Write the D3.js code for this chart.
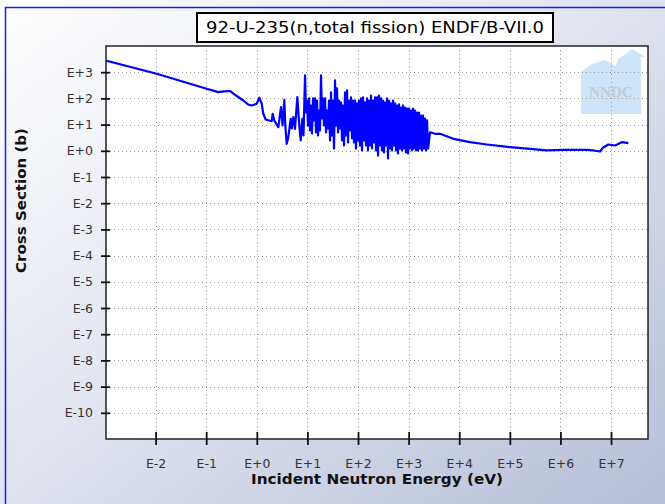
<!DOCTYPE html>
<html><head><meta charset="utf-8">
<script src="https://cdn.jsdelivr.net/npm/d3@7"></script>
<style>html,body{margin:0;padding:0;background:#fff;} svg{display:block}</style>
</head><body>
<svg id="chart" width="665" height="504"></svg>
<script>
// ---------------- data ----------------
const chartTitle = "92-U-235(n,total fission) ENDF/B-VII.0";
const xAxisTitle = "Incident Neutron Energy (eV)";
const yAxisTitle = "Cross Section (b)";
const xTickExponents = [-2, -1, 0, 1, 2, 3, 4, 5, 6, 7];
const yTickExponents = [3, 2, 1, 0, -1, -2, -3, -4, -5, -6, -7, -8, -9, -10];
const xDomainExponents = [-2.98, 7.73];
const yDomainExponents = [-11, 4];

// thermal + low resonances
const energyLow = [0.001, 0.01051, 0.1023, 0.1734, 0.2248, 0.2954, 0.388, 0.541, 0.670, 0.793, 0.995, 1.121, 1.250, 1.344, 1.499, 1.970, 2.062, 2.218, 2.660, 3.008, 3.221, 3.496, 3.658, 3.898, 4.194, 4.677, 4.895, 5.264, 5.686, 6.315, 6.917, 7.373, 7.93, 8.375];
const sigmaLow  = [2830, 873, 233, 173, 184, 192, 129, 83.2, 58.7, 53.7, 62.4, 105.8, 62.4, 25.9, 15.7, 13.5, 25.9, 14.4, 7.97, 46.3, 9.26, 88.7, 9.26, 1.85, 3.31, 16.7, 7.11, 19.2, 6.92, 111, 9.26, 2.47, 16.7, 3.84];

// dense resolved-resonance region
const energyRes = [8.97, 9.38, 9.82, 10.28, 10.76, 11.26, 11.78, 12.33, 12.90, 13.51, 14.13, 14.79, 15.48, 16.20, 16.95, 17.75, 18.58, 19.44, 20.35, 21.30, 22.28, 23.32, 24.40, 25.54, 26.73, 27.97, 29.27, 30.64, 32.06, 33.56, 35.12, 36.76, 38.47, 40.26, 42.13, 44.10, 46.15, 48.30, 50.55, 52.91, 55.36, 57.94, 60.64, 63.46, 66.41, 69.51, 72.75, 76.13, 79.68, 83.39, 87.27, 91.33, 95.58, 100.0, 104.7, 109.5, 114.6, 119.9, 125.5, 131.4, 137.5, 143.9, 150.6, 157.6, 165.0, 172.7, 180.7, 189.2, 198.0, 207.2, 216.8, 226.9, 237.5, 248.5, 260.1, 272.2, 284.9, 298.1, 312.0, 326.6, 341.7, 357.6, 374.3, 391.7, 409.9, 429.0, 449.0, 469.9, 491.8, 514.7, 538.6, 563.7, 589.9, 617.4, 646.2, 676.2, 707.7, 740.6, 775.1, 811.2, 849.0, 888.5, 929.9, 973.2, 1018, 1066, 1116, 1168, 1222, 1279, 1338, 1400, 1466, 1534, 1605, 1680, 1758, 1840, 1926, 2015, 2109, 2207, 2310, 2418];
const sigmaRes  = [752, 29.0, 83.2, 9.26, 99.5, 5.96, 53.7, 4.58, 99.5, 14.4, 99.5, 5.00, 83.2, 3.84, 34.6, 5.96, 752, 17.1, 99.5, 9.26, 99.5, 5.00, 34.6, 7.11, 83.2, 2.47, 169, 3.84, 83.2, 1.22, 484, 9.26, 240, 5.00, 83.2, 7.11, 69.9, 2.47, 53.7, 1.59, 169, 3.84, 201, 2.07, 83.2, 5.96, 109, 2.95, 83.2, 2.07, 83.2, 1.22, 64.1, 2.47, 83.2, 1.59, 99.5, 1.03, 109, 2.47, 69.9, 1.59, 99.5, 1.03, 83.2, 1.59, 129, 1.22, 83.2, 2.07, 109, 1.03, 109, 0.66, 129, 1.59, 99.5, 1.03, 83.2, 0.861, 69.9, 1.59, 99.5, 0.51, 83.2, 1.22, 64.1, 1.03, 83.2, 1.59, 64.1, 1.03, 53.7, 0.79, 58.7, 1.22, 44.9, 1.03, 53.7, 1.22, 44.9, 0.861, 41.2, 0.79, 41.2, 1.22, 34.6, 1.03, 41.2, 1.22, 34.6, 1.03, 29.0, 1.03, 29.0, 1.22, 22.2, 1.03, 22.2, 1.22, 17.1, 1.03, 14.4, 1.22];

// smooth / fast region
const energyHigh = [2648, 3324, 4175, 7646, 16350, 34960, 100900, 250700, 536000, 1141000, 3310000, 4470000, 6060000, 6860000, 8850000, 12000000, 16300000, 22000000];
const sigmaHigh  = [5.1, 4.46, 4.46, 2.87, 2.13, 1.74, 1.37, 1.19, 1.03, 1.09, 1.09, 1.03, 0.94, 1.30, 1.74, 1.59, 2.13, 1.95];

const energy = energyLow.concat(energyRes, energyHigh);
const sigma = sigmaLow.concat(sigmaRes, sigmaHigh);
const points = energy.map((e, i) => ({ e: e, s: sigma[i] }));

// ---------------- drawing ----------------
const W = 665, H = 504;
const plot = { left: 106, top: 46, right: 648, bottom: 439 };
const svg = d3.select("#chart");
const defs = svg.append("defs");

const bg = defs.append("linearGradient").attr("id", "bgGrad")
  .attr("x1", "0").attr("y1", "0").attr("x2", "1").attr("y2", "1");
bg.append("stop").attr("offset", "0").attr("stop-color", "#ffffff");
bg.append("stop").attr("offset", "0.45").attr("stop-color", "#e3e6f0");
bg.append("stop").attr("offset", "1").attr("stop-color", "#b6bed8");

defs.append("clipPath").attr("id", "plotClip").append("rect")
  .attr("x", plot.left).attr("y", plot.top)
  .attr("width", plot.right - plot.left).attr("height", plot.bottom - plot.top);

svg.append("rect").attr("width", W).attr("height", H).attr("fill", "url(#bgGrad)");
// blue outer frame (top + left)
svg.append("path").attr("d", `M5.5,${H} L5.5,7.5 L${W},7.5`)
  .attr("fill", "none").attr("stroke", "#1a1aff").attr("stroke-width", 1.5);

const x = d3.scaleLog().domain(xDomainExponents.map(p => Math.pow(10, p))).range([plot.left, plot.right]);
const y = d3.scaleLog().domain(yDomainExponents.map(p => Math.pow(10, p))).range([plot.bottom, plot.top]);

// plot background
svg.append("rect").attr("x", plot.left).attr("y", plot.top)
  .attr("width", plot.right - plot.left).attr("height", plot.bottom - plot.top)
  .attr("fill", "#ffffff");

// NNDC watermark logo
const logo = svg.append("g").attr("clip-path", "url(#plotClip)");
logo.append("polygon")
  .attr("points", "581,114 581,72 592,64 604,60 611,63 616,66 618,59 626,54 632,49 637,52 645,57 641,57 641,114")
  .attr("fill", "#cde5fa");
logo.append("text").attr("x", 611).attr("y", 97).attr("text-anchor", "middle")
  .attr("font-family", "Liberation Serif, DejaVu Serif, serif").attr("font-weight", "bold")
  .attr("font-size", 15).attr("fill", "#c5c9d0").text("NNDC");

// grid
const grid = svg.append("g").attr("stroke", "#9a9a9a").attr("stroke-width", 1).attr("stroke-dasharray", "1,3");
xTickExponents.forEach(p => {
  const xx = Math.round(x(Math.pow(10, p))) + 0.5;
  grid.append("line").attr("x1", xx).attr("x2", xx).attr("y1", plot.top).attr("y2", plot.bottom);
});
yTickExponents.forEach(p => {
  const yy = Math.round(y(Math.pow(10, p))) + 0.5;
  grid.append("line").attr("y1", yy).attr("y2", yy).attr("x1", plot.left).attr("x2", plot.right);
});

// data line
const line = d3.line().x(d => x(d.e)).y(d => y(d.s));
svg.append("g").attr("clip-path", "url(#plotClip)").append("path")
  .datum(points).attr("d", line)
  .attr("fill", "none").attr("stroke", "#0000ff").attr("stroke-width", 2.2)
  .attr("stroke-linejoin", "round");

// plot border
svg.append("rect").attr("x", plot.left).attr("y", plot.top)
  .attr("width", plot.right - plot.left).attr("height", plot.bottom - plot.top)
  .attr("fill", "none").attr("stroke", "#222").attr("stroke-width", 1.5);

const fmt = p => (p >= 0 ? "E+" + p : "E-" + Math.abs(p));

// y axis
const yAxis = d3.axisLeft(y).tickValues(yTickExponents.map(p => Math.pow(10, p)))
  .tickFormat(v => fmt(Math.round(Math.log10(v)))).tickSize(5).tickPadding(8);
const gy = svg.append("g").attr("transform", `translate(${plot.left},0)`).call(yAxis);
gy.select(".domain").remove();
gy.selectAll(".tick line").attr("x1", 4).attr("x2", -5).attr("stroke", "#111").attr("stroke-width", 1.8);
gy.selectAll(".tick text").attr("font-family", "DejaVu Sans, sans-serif").attr("font-size", 12.5).attr("fill", "#333");

// x axis
const xAxis = d3.axisBottom(x).tickValues(xTickExponents.map(p => Math.pow(10, p)))
  .tickFormat(v => fmt(Math.round(Math.log10(v)))).tickSize(6).tickPadding(14);
const gx = svg.append("g").attr("transform", `translate(0,${plot.bottom})`).call(xAxis);
gx.select(".domain").remove();
gx.selectAll(".tick line").attr("y1", -7).attr("y2", 6).attr("stroke", "#111").attr("stroke-width", 1.8);
gx.selectAll(".tick text").attr("font-family", "DejaVu Sans, sans-serif").attr("font-size", 12.5).attr("fill", "#333");

// title box
svg.append("rect").attr("x", 197).attr("y", 13).attr("width", 356).attr("height", 29)
  .attr("fill", "#fff").attr("stroke", "#000").attr("stroke-width", 2);
svg.append("text").attr("x", 375).attr("y", 33).attr("text-anchor", "middle")
  .attr("font-family", "DejaVu Sans, sans-serif").attr("font-size", 15).attr("fill", "#000")
  .attr("textLength", 338).attr("lengthAdjust", "spacingAndGlyphs")
  .text(chartTitle);

// axis titles
svg.append("text").attr("x", 377).attr("y", 484).attr("text-anchor", "middle")
  .attr("font-family", "DejaVu Sans, sans-serif").attr("font-weight", "bold").attr("font-size", 14)
  .attr("fill", "#111").attr("textLength", 252).attr("lengthAdjust", "spacingAndGlyphs")
  .text(xAxisTitle);
svg.append("text").attr("transform", "translate(26,200.5) rotate(-90)").attr("text-anchor", "middle")
  .attr("font-family", "DejaVu Sans, sans-serif").attr("font-weight", "bold").attr("font-size", 14)
  .attr("fill", "#111").attr("textLength", 145).attr("lengthAdjust", "spacingAndGlyphs")
  .text(yAxisTitle);
</script>
</body></html>
